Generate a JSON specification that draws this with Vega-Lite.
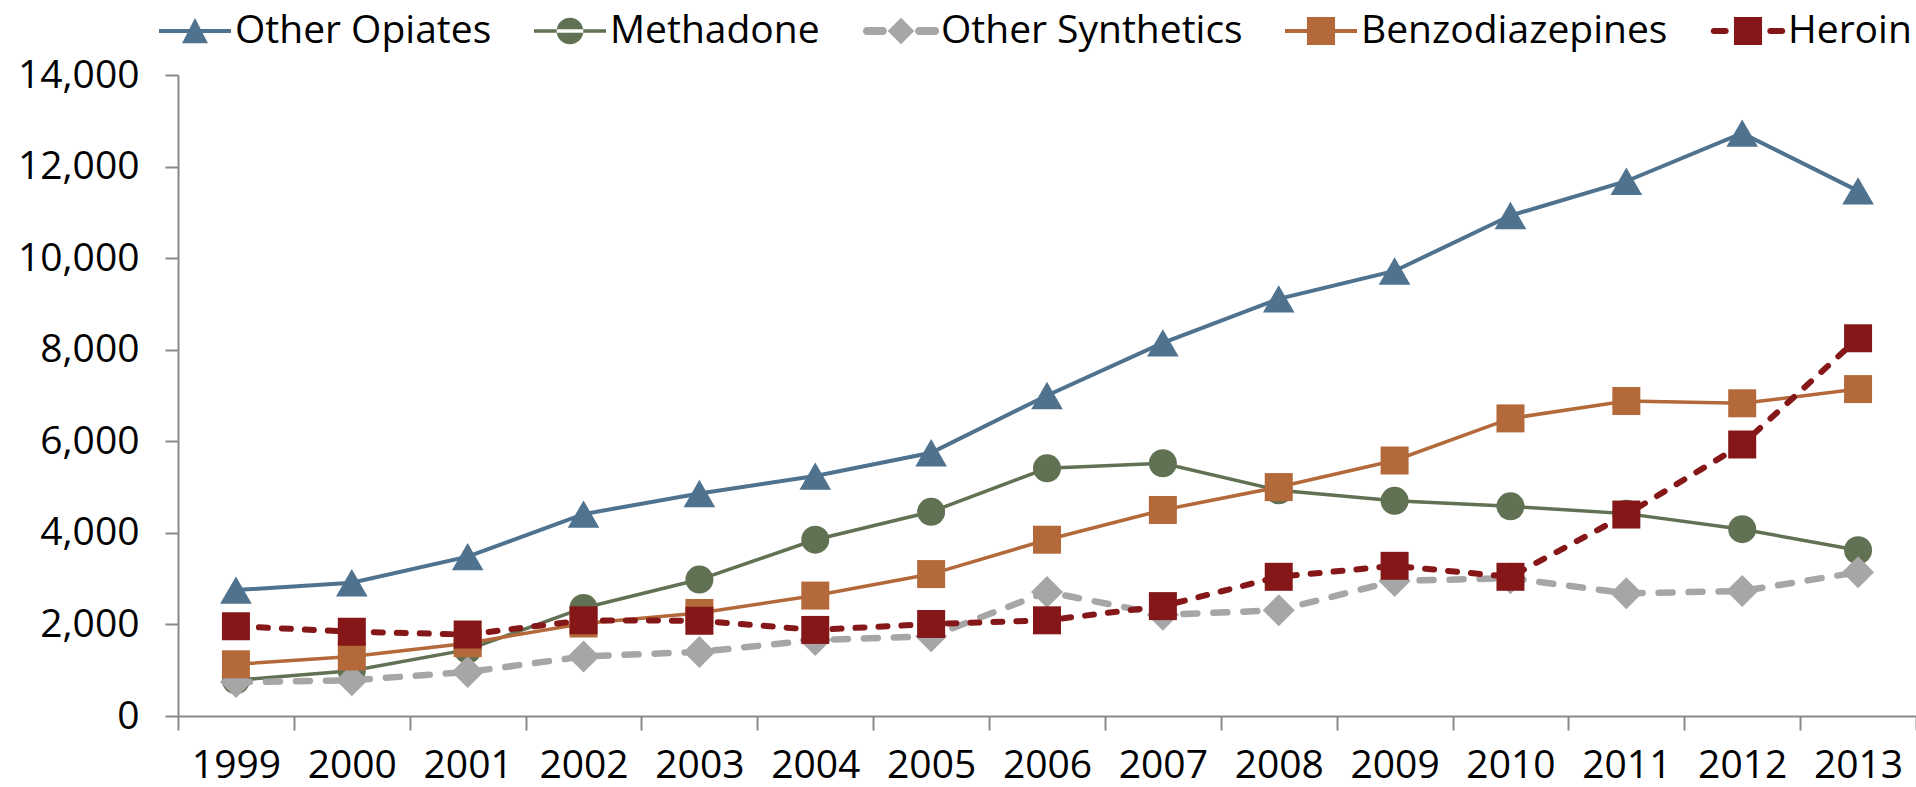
{
  "$schema": "https://vega.github.io/schema/vega-lite/v6.json",
  "width": 1738,
  "height": 641,
  "autosize": {"type": "none"},
  "padding": {"left": 178, "top": 75, "right": 0, "bottom": 71},
  "background": "white",
  "config": {
    "view": {"stroke": null},
    "font": "Open Sans",
    "axis": {
      "labelFont": "Open Sans",
      "labelFontSize": 39,
      "labelColor": "#000000",
      "domainColor": "#898989",
      "domainWidth": 2,
      "tickColor": "#898989",
      "tickWidth": 2,
      "grid": false,
      "title": null
    }
  },
  "data": {
    "values": [
      {"year": "1999", "series": "Other Opiates", "value": 2750},
      {"year": "2000", "series": "Other Opiates", "value": 2910},
      {"year": "2001", "series": "Other Opiates", "value": 3480},
      {"year": "2002", "series": "Other Opiates", "value": 4410},
      {"year": "2003", "series": "Other Opiates", "value": 4860},
      {"year": "2004", "series": "Other Opiates", "value": 5240},
      {"year": "2005", "series": "Other Opiates", "value": 5750},
      {"year": "2006", "series": "Other Opiates", "value": 7000},
      {"year": "2007", "series": "Other Opiates", "value": 8150},
      {"year": "2008", "series": "Other Opiates", "value": 9110},
      {"year": "2009", "series": "Other Opiates", "value": 9720},
      {"year": "2010", "series": "Other Opiates", "value": 10930},
      {"year": "2011", "series": "Other Opiates", "value": 11680},
      {"year": "2012", "series": "Other Opiates", "value": 12730},
      {"year": "2013", "series": "Other Opiates", "value": 11470},
      {"year": "1999", "series": "Methadone", "value": 780},
      {"year": "2000", "series": "Methadone", "value": 990},
      {"year": "2001", "series": "Methadone", "value": 1450},
      {"year": "2002", "series": "Methadone", "value": 2360},
      {"year": "2003", "series": "Methadone", "value": 2980},
      {"year": "2004", "series": "Methadone", "value": 3850},
      {"year": "2005", "series": "Methadone", "value": 4460},
      {"year": "2006", "series": "Methadone", "value": 5410},
      {"year": "2007", "series": "Methadone", "value": 5520},
      {"year": "2008", "series": "Methadone", "value": 4930},
      {"year": "2009", "series": "Methadone", "value": 4700},
      {"year": "2010", "series": "Methadone", "value": 4580},
      {"year": "2011", "series": "Methadone", "value": 4420},
      {"year": "2012", "series": "Methadone", "value": 4080},
      {"year": "2013", "series": "Methadone", "value": 3620},
      {"year": "1999", "series": "Other Synthetics", "value": 740},
      {"year": "2000", "series": "Other Synthetics", "value": 780},
      {"year": "2001", "series": "Other Synthetics", "value": 960},
      {"year": "2002", "series": "Other Synthetics", "value": 1300},
      {"year": "2003", "series": "Other Synthetics", "value": 1400},
      {"year": "2004", "series": "Other Synthetics", "value": 1660},
      {"year": "2005", "series": "Other Synthetics", "value": 1740},
      {"year": "2006", "series": "Other Synthetics", "value": 2710},
      {"year": "2007", "series": "Other Synthetics", "value": 2210},
      {"year": "2008", "series": "Other Synthetics", "value": 2310},
      {"year": "2009", "series": "Other Synthetics", "value": 2950},
      {"year": "2010", "series": "Other Synthetics", "value": 3010},
      {"year": "2011", "series": "Other Synthetics", "value": 2680},
      {"year": "2012", "series": "Other Synthetics", "value": 2730},
      {"year": "2013", "series": "Other Synthetics", "value": 3140},
      {"year": "1999", "series": "Benzodiazepines", "value": 1130},
      {"year": "2000", "series": "Benzodiazepines", "value": 1300},
      {"year": "2001", "series": "Benzodiazepines", "value": 1590},
      {"year": "2002", "series": "Benzodiazepines", "value": 2020},
      {"year": "2003", "series": "Benzodiazepines", "value": 2250},
      {"year": "2004", "series": "Benzodiazepines", "value": 2630},
      {"year": "2005", "series": "Benzodiazepines", "value": 3100},
      {"year": "2006", "series": "Benzodiazepines", "value": 3850},
      {"year": "2007", "series": "Benzodiazepines", "value": 4500},
      {"year": "2008", "series": "Benzodiazepines", "value": 5000},
      {"year": "2009", "series": "Benzodiazepines", "value": 5580},
      {"year": "2010", "series": "Benzodiazepines", "value": 6500},
      {"year": "2011", "series": "Benzodiazepines", "value": 6880},
      {"year": "2012", "series": "Benzodiazepines", "value": 6830},
      {"year": "2013", "series": "Benzodiazepines", "value": 7140},
      {"year": "1999", "series": "Heroin", "value": 1960},
      {"year": "2000", "series": "Heroin", "value": 1840},
      {"year": "2001", "series": "Heroin", "value": 1780},
      {"year": "2002", "series": "Heroin", "value": 2090},
      {"year": "2003", "series": "Heroin", "value": 2080},
      {"year": "2004", "series": "Heroin", "value": 1880},
      {"year": "2005", "series": "Heroin", "value": 2010},
      {"year": "2006", "series": "Heroin", "value": 2090},
      {"year": "2007", "series": "Heroin", "value": 2400},
      {"year": "2008", "series": "Heroin", "value": 3040},
      {"year": "2009", "series": "Heroin", "value": 3280},
      {"year": "2010", "series": "Heroin", "value": 3040},
      {"year": "2011", "series": "Heroin", "value": 4400},
      {"year": "2012", "series": "Heroin", "value": 5930},
      {"year": "2013", "series": "Heroin", "value": 8250}
    ]
  },
  "encoding": {
    "x": {
      "field": "year",
      "type": "ordinal",
      "scale": {"type": "band", "paddingInner": 0, "paddingOuter": 0},
      "axis": {"tickBand": "extent", "tickSize": 14, "labelPadding": 16, "labelAngle": 0}
    },
    "y": {
      "field": "value",
      "type": "quantitative",
      "scale": {"domain": [0, 14000], "nice": false},
      "axis": {"values": [0, 2000, 4000, 6000, 8000, 10000, 12000, 14000], "format": ",.0f", "tickSize": 13, "labelPadding": 26}
    },
    "color": {
      "field": "series",
      "type": "nominal",
      "scale": {
        "domain": ["Other Opiates", "Methadone", "Other Synthetics", "Benzodiazepines", "Heroin"],
        "range": ["#4F728F", "#617153", "#A6A6A6", "#B4693A", "#851719"]
      },
      "legend": {
        "orient": "none",
        "legendX": -19,
        "legendY": -80,
        "direction": "horizontal",
        "title": null,
        "padding": 0,
        "symbolSize": 5184,
        "symbolStrokeWidth": 0,
        "labelFont": "Open Sans",
        "labelFontSize": 39,
        "labelColor": "#000000",
        "labelOffset": 4,
        "labelLimit": 600,
        "columnPadding": 42,
        "encode": {
          "symbols": {
            "update": {
              "shape": {"signal": "datum.value === 'Other Opiates' ? 'M-1,-0.055H1V0.055H-1Z M0,-0.36L0.36,0.34H-0.36Z' : datum.value === 'Methadone' ? 'M-1,-0.05H1V0.05H-1Z M-0.37,0A0.37,0.37 0 1,0 0.37,0A0.37,0.37 0 1,0 -0.37,0Z' : datum.value === 'Other Synthetics' ? 'M-0.95,-0.11H-0.5A0.11,0.11 0 0,1 -0.5,0.11H-0.95A0.11,0.11 0 0,1 -0.95,-0.11Z M0.5,-0.11H0.95A0.11,0.11 0 0,1 0.95,0.11H0.5A0.11,0.11 0 0,1 0.5,-0.11Z M0,-0.37L0.37,0L0,0.37L-0.37,0Z' : datum.value === 'Benzodiazepines' ? 'M-1,-0.055H1V0.055H-1Z M-0.39,-0.39H0.39V0.39H-0.39Z' : 'M-0.95,-0.085H-0.62A0.085,0.085 0 0,1 -0.62,0.085H-0.95A0.085,0.085 0 0,1 -0.95,-0.085Z M0.62,-0.085H0.95A0.085,0.085 0 0,1 0.95,0.085H0.62A0.085,0.085 0 0,1 0.62,-0.085Z M-0.39,-0.39H0.39V0.39H-0.39Z'"},
              "fill": {"scale": "color", "field": "value"},
              "stroke": {"value": "transparent"},
              "opacity": {"value": 1}
            }
          }
        }
      }
    }
  },
  "layer": [
    {
      "transform": [{"filter": "datum.series === 'Other Opiates'"}],
      "mark": {"type": "line", "strokeWidth": 4}
    },
    {
      "transform": [{"filter": "datum.series === 'Other Opiates'"}],
      "mark": {"type": "point", "filled": true, "shape": "triangle-up", "size": 1000, "opacity": 1, "strokeWidth": 0}
    },
    {
      "transform": [{"filter": "datum.series === 'Methadone'"}],
      "mark": {"type": "line", "strokeWidth": 3.5}
    },
    {
      "transform": [{"filter": "datum.series === 'Methadone'"}],
      "mark": {"type": "point", "filled": true, "shape": "circle", "size": 784, "opacity": 1, "strokeWidth": 0}
    },
    {
      "transform": [{"filter": "datum.series === 'Other Synthetics'"}],
      "mark": {"type": "line", "strokeWidth": 6.5, "strokeDash": [14, 16], "strokeCap": "round"}
    },
    {
      "transform": [{"filter": "datum.series === 'Other Synthetics'"}],
      "mark": {"type": "point", "filled": true, "shape": "diamond", "size": 1024, "opacity": 1, "strokeWidth": 0}
    },
    {
      "transform": [{"filter": "datum.series === 'Benzodiazepines'"}],
      "mark": {"type": "line", "strokeWidth": 3.5}
    },
    {
      "transform": [{"filter": "datum.series === 'Benzodiazepines'"}],
      "mark": {"type": "point", "filled": true, "shape": "square", "size": 784, "opacity": 1, "strokeWidth": 0}
    },
    {
      "transform": [{"filter": "datum.series === 'Heroin'"}],
      "mark": {"type": "line", "strokeWidth": 6, "strokeDash": [9, 14], "strokeCap": "round"}
    },
    {
      "transform": [{"filter": "datum.series === 'Heroin'"}],
      "mark": {"type": "point", "filled": true, "shape": "square", "size": 784, "opacity": 1, "strokeWidth": 0}
    }
  ]
}
